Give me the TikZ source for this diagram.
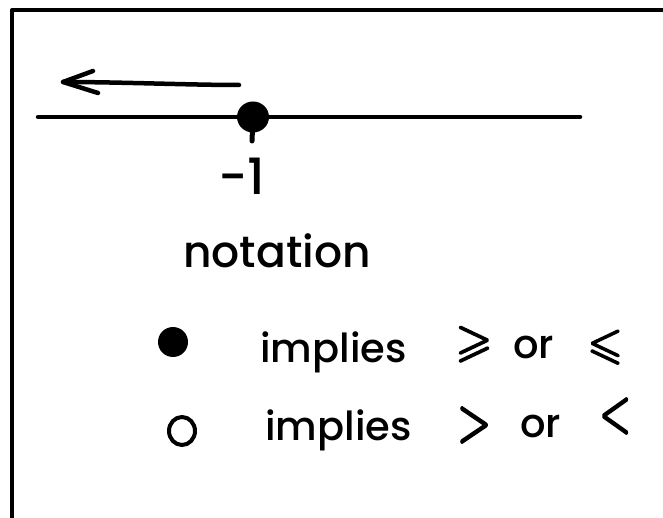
\documentclass[tikz,border=0pt]{standalone}
\usepackage{graphicx}
\usepackage{fontspec}
\setmainfont{Poppins}[UprightFont=* Medium]
\newfontfamily\symf{Latin Modern Math}[FakeBold=4]
\usetikzlibrary{shapes.geometric}
\begin{document}
\begin{tikzpicture}[x=1pt,y=-1pt,line cap=round,line join=round,
  framepen/.style={line width=4pt},
  ink/.style={line width=4.5pt},
  txt/.style={inner sep=0pt,anchor=base west,font=\fontsize{40}{44}\selectfont},
  sym/.style={inner sep=0pt,font=\symf\fontsize{10}{12}\selectfont},
  dotfill/.style={ellipse,fill,inner sep=0pt},
  dotopen/.style={ellipse,draw,line width=4pt,inner sep=0pt}]
\useasboundingbox (0,0) rectangle (663,518);
\clip (0,0) rectangle (663,518);
% frame (open at right and bottom: extends past the picture)
\coordinate (fb) at (12,540);
\coordinate (ftl) at (12,10);
\coordinate (fr) at (690,10);
\draw[framepen] (fb) -- (ftl) -- (fr);
% number line
\coordinate (L) at (38,117);
\coordinate (R) at (580,117);
\draw[ink] (L) -- (R);
% closed point at -1
\node[dotfill,minimum width=32pt,minimum height=31pt] (pt) at (253,117) {};
\coordinate (tail) at (252,141);
\draw[line width=5pt] (pt.center) -- (tail);
% arrow to the left
\coordinate (a1) at (239,85);
\coordinate (a0) at (63,82);
\coordinate (b1) at (93,71);
\coordinate (b2) at (98,93);
\draw[ink] (a1) .. controls (190,85) and (120,82) .. (a0);
\draw[ink] (b1) -- (a0) -- (b2);
% label
\node[txt,font=\fontsize{50}{54}\selectfont] (lbl) at (218,195) {−1};
% notation
\node[txt,font=\fontsize{44}{48}\selectfont] (notation) at (183,268) {notation};
\node[dotfill,minimum width=30pt,minimum height=30pt] (d1) at (173,342) {};
\node[txt] (imp1) at (260,362) {implies};
\node[sym] (ge) at (474,344) {\scalebox{4.6}{⩾}};
\node[txt] (or1) at (513,358) {or};
\node[sym] (le) at (605,347) {\scalebox{4.4}{⩽}};
\node[dotopen,minimum width=26pt,minimum height=28pt] (d2) at (182,431) {};
\node[txt] (imp2) at (265,440) {implies};
\node[sym] (gt) at (474,425) {\scalebox{4.2}[6]{>}};
\node[txt] (or2) at (520,437) {or};
\node[sym] (lt) at (615,416) {\scalebox{4}[6]{<}};
\end{tikzpicture}
\end{document}
